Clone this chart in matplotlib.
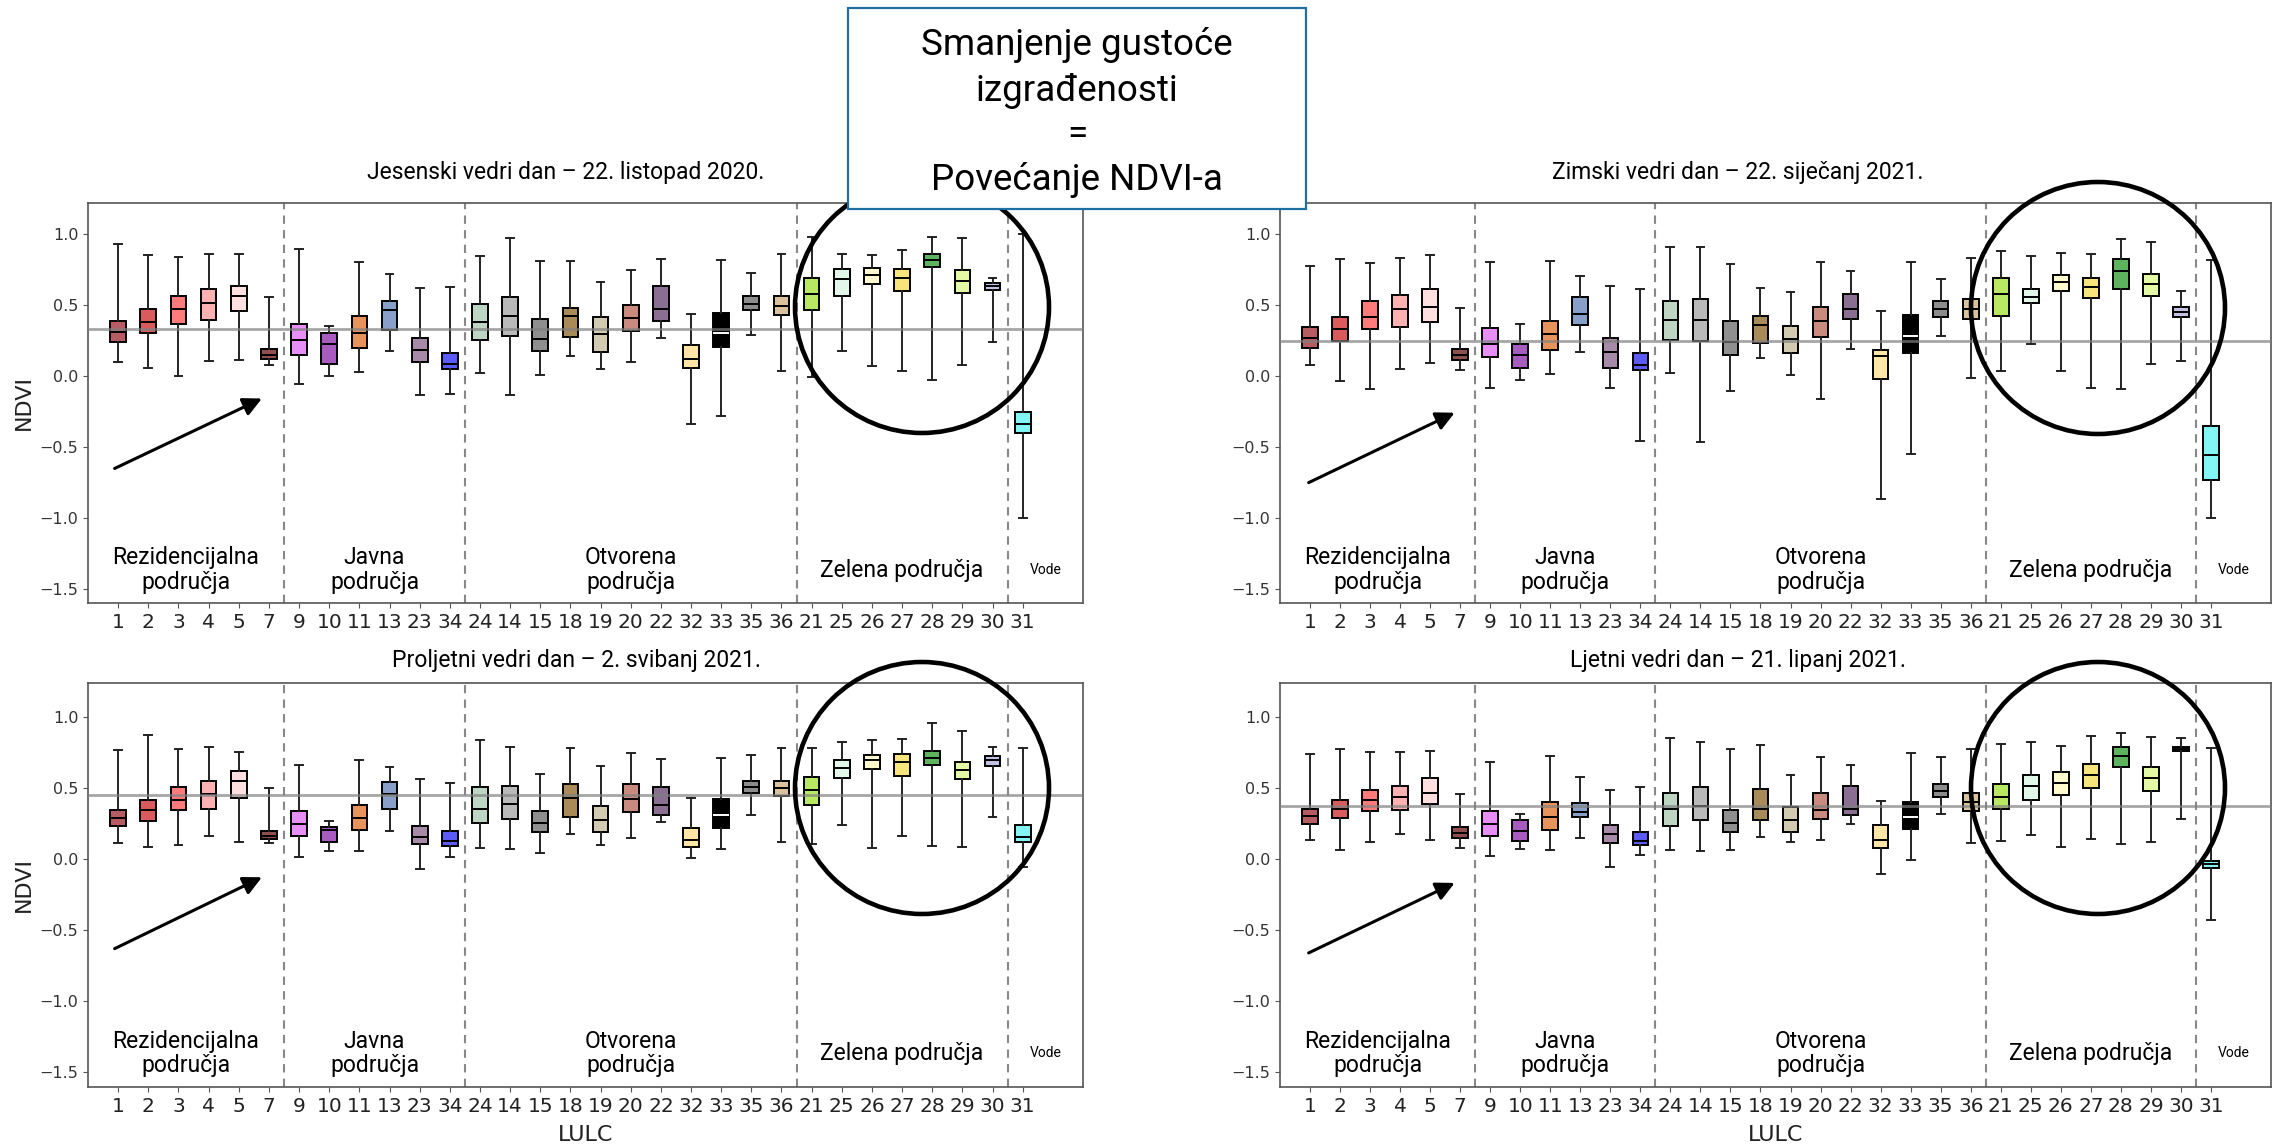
import matplotlib
matplotlib.use("Agg")
import matplotlib.pyplot as plt
from matplotlib.patches import Ellipse, Rectangle

# LULC classes in plot order
lulc = ['1', '2', '3', '4', '5', '7', '9', '10', '11', '13', '23', '34',
        '24', '14', '15', '18', '19', '20', '22', '32', '33', '35', '36',
        '21', '25', '26', '27', '28', '29', '30', '31']
box_colors = ['#b65c62', '#d95b5b', '#ff7b7b', '#ffb1b1', '#ffdfe0', '#8e4f4f',
              '#e78ef7', '#a95cc0', '#e8935c', '#88a0c8', '#a68aa8', '#5b5bf7',
              '#bdd5c3', '#b9b9b9', '#8f8f8f', '#a88b59', '#d3cbb1', '#c98b7e',
              '#8a6f92', '#ffe6a6', '#000000', '#8c8c8c', '#d9c29c',
              '#b9e862', '#e2f6ea', '#fffbcc', '#f7e57c', '#5eb35e', '#e3f9a3',
              '#c2c2e4', '#84f5f5']

group_names = ['Rezidencijalna\npodručja', 'Javna\npodručja', 'Otvorena\npodručja',
               'Zelena područja', 'Vode']
group_sizes = [6, 6, 11, 7, 1]

titles = ['Jesenski vedri dan – 22. listopad 2020.',
          'Zimski vedri dan – 22. siječanj 2021.',
          'Proljetni vedri dan – 2. svibanj 2021.',
          'Ljetni vedri dan – 21. lipanj 2021.']
ref_lines = [0.335, 0.245, 0.45, 0.37]

# autumn (top-left)
autumn_hi = [0.93, 0.85, 0.84, 0.86, 0.86, 0.555, 0.895, 0.356, 0.803, 0.719, 0.623, 0.625,
             0.845, 0.97, 0.808, 0.81, 0.665, 0.749, 0.822, 0.438, 0.815, 0.726, 0.862,
             0.981, 0.862, 0.852, 0.89, 0.977, 0.97, 0.693, 1.0]
autumn_q3 = [0.389, 0.475, 0.562, 0.614, 0.635, 0.19, 0.365, 0.302, 0.424, 0.527, 0.267, 0.166,
             0.51, 0.557, 0.40, 0.482, 0.415, 0.503, 0.635, 0.222, 0.447, 0.562, 0.562,
             0.693, 0.752, 0.759, 0.754, 0.859, 0.745, 0.653, -0.251]
autumn_med = [0.309, 0.379, 0.471, 0.513, 0.567, 0.15, 0.253, 0.227, 0.302, 0.464, 0.183, 0.087,
              0.379, 0.426, 0.26, 0.426, 0.295, 0.412, 0.475, 0.119, 0.302, 0.508, 0.494,
              0.581, 0.684, 0.712, 0.689, 0.815, 0.672, 0.635, -0.335]
autumn_q1 = [0.237, 0.30, 0.37, 0.396, 0.457, 0.12, 0.15, 0.084, 0.20, 0.323, 0.096, 0.047,
             0.255, 0.279, 0.18, 0.274, 0.173, 0.318, 0.386, 0.054, 0.208, 0.464, 0.431,
             0.466, 0.564, 0.651, 0.602, 0.766, 0.588, 0.609, -0.40]
autumn_lo = [0.098, 0.054, 0.0, 0.103, 0.112, 0.075, -0.054, 0.0, 0.026, 0.18, -0.133, -0.126,
             0.023, -0.131, 0.005, 0.143, 0.052, 0.096, 0.267, -0.337, -0.281, 0.286, 0.035,
             -0.009, 0.176, 0.068, 0.035, -0.028, 0.08, 0.239, -0.998]

# winter (top-right)
winter_hi = [0.775, 0.824, 0.799, 0.831, 0.852, 0.48, 0.806, 0.368, 0.81, 0.707, 0.635, 0.611,
             0.909, 0.909, 0.79, 0.621, 0.595, 0.803, 0.742, 0.457, 0.806, 0.684, 0.829,
             0.885, 0.845, 0.871, 0.86, 0.963, 0.948, 0.60, 0.82]
winter_q3 = [0.344, 0.419, 0.527, 0.571, 0.614, 0.19, 0.342, 0.227, 0.386, 0.56, 0.267, 0.162,
             0.532, 0.543, 0.387, 0.426, 0.356, 0.487, 0.576, 0.183, 0.429, 0.529, 0.541,
             0.689, 0.614, 0.71, 0.691, 0.827, 0.719, 0.489, -0.351]
winter_med = [0.265, 0.33, 0.417, 0.473, 0.485, 0.145, 0.227, 0.145, 0.297, 0.438, 0.171, 0.08,
              0.396, 0.396, 0.237, 0.358, 0.26, 0.386, 0.475, 0.138, 0.279, 0.475, 0.473,
              0.576, 0.56, 0.665, 0.63, 0.742, 0.649, 0.452, -0.557]
winter_q1 = [0.201, 0.248, 0.333, 0.344, 0.379, 0.115, 0.131, 0.056, 0.187, 0.358, 0.056, 0.04,
             0.251, 0.244, 0.145, 0.23, 0.164, 0.276, 0.405, -0.019, 0.166, 0.417, 0.40,
             0.424, 0.515, 0.597, 0.548, 0.616, 0.564, 0.415, -0.735]
winter_lo = [0.077, -0.035, -0.091, 0.049, 0.091, 0.044, -0.087, -0.03, 0.014, 0.171, -0.087, -0.457,
             0.023, -0.468, -0.102, 0.124, 0.007, -0.159, 0.194, -0.864, -0.55, 0.279, -0.016,
             0.035, 0.225, 0.033, -0.082, -0.089, 0.084, 0.103, -1.0]

# spring (bottom-left)
spring_hi = [0.766, 0.871, 0.775, 0.792, 0.754, 0.501, 0.66, 0.267, 0.70, 0.649, 0.567, 0.536,
             0.836, 0.792, 0.602, 0.785, 0.653, 0.745, 0.703, 0.431, 0.714, 0.731, 0.785,
             0.785, 0.827, 0.836, 0.843, 0.958, 0.904, 0.789, 0.782]
spring_q3 = [0.344, 0.415, 0.506, 0.548, 0.621, 0.194, 0.337, 0.227, 0.379, 0.546, 0.234, 0.194,
             0.506, 0.513, 0.335, 0.527, 0.375, 0.529, 0.508, 0.22, 0.422, 0.548, 0.548,
             0.581, 0.70, 0.735, 0.738, 0.759, 0.684, 0.726, 0.239]
spring_med = [0.286, 0.344, 0.415, 0.461, 0.55, 0.162, 0.244, 0.204, 0.286, 0.461, 0.157, 0.129,
              0.354, 0.391, 0.255, 0.431, 0.274, 0.426, 0.379, 0.133, 0.309, 0.506, 0.499,
              0.485, 0.644, 0.70, 0.684, 0.712, 0.63, 0.696, 0.157]
spring_q1 = [0.232, 0.269, 0.342, 0.354, 0.433, 0.138, 0.162, 0.122, 0.204, 0.351, 0.105, 0.091,
             0.255, 0.279, 0.19, 0.293, 0.187, 0.328, 0.309, 0.087, 0.22, 0.464, 0.447,
             0.384, 0.571, 0.632, 0.583, 0.66, 0.562, 0.656, 0.119]
spring_lo = [0.115, 0.087, 0.098, 0.164, 0.122, 0.11, 0.012, 0.056, 0.059, 0.194, -0.073, 0.016,
             0.075, 0.068, 0.04, 0.173, 0.096, 0.148, 0.258, 0.009, 0.07, 0.307, 0.119,
             0.103, 0.239, 0.075, 0.159, 0.091, 0.087, 0.295, -0.054]

# summer (bottom-right)
summer_hi = [0.738, 0.775, 0.752, 0.752, 0.761, 0.457, 0.686, 0.319, 0.726, 0.581, 0.489, 0.506,
             0.85, 0.824, 0.774, 0.801, 0.59, 0.721, 0.663, 0.41, 0.749, 0.717, 0.778,
             0.813, 0.824, 0.799, 0.867, 0.89, 0.857, 0.852, 0.782]
summer_q3 = [0.354, 0.417, 0.489, 0.513, 0.569, 0.225, 0.34, 0.272, 0.40, 0.393, 0.239, 0.192,
             0.464, 0.504, 0.348, 0.494, 0.363, 0.464, 0.513, 0.241, 0.40, 0.527, 0.468,
             0.532, 0.59, 0.614, 0.67, 0.789, 0.651, 0.792, -0.014]
summer_med = [0.30, 0.354, 0.417, 0.44, 0.468, 0.183, 0.248, 0.199, 0.295, 0.328, 0.178, 0.129,
              0.349, 0.375, 0.255, 0.351, 0.274, 0.347, 0.354, 0.136, 0.293, 0.482, 0.40,
              0.44, 0.513, 0.534, 0.593, 0.728, 0.569, 0.778, -0.033]
summer_q1 = [0.244, 0.288, 0.335, 0.344, 0.391, 0.148, 0.164, 0.126, 0.206, 0.297, 0.11, 0.096,
             0.23, 0.272, 0.19, 0.272, 0.19, 0.281, 0.309, 0.08, 0.211, 0.44, 0.335,
             0.349, 0.417, 0.452, 0.499, 0.649, 0.482, 0.761, -0.061]
summer_lo = [0.136, 0.066, 0.122, 0.173, 0.133, 0.075, 0.019, 0.068, 0.061, 0.15, -0.056, 0.03,
             0.066, 0.056, 0.066, 0.152, 0.117, 0.133, 0.248, -0.105, -0.005, 0.314, 0.115,
             0.124, 0.169, 0.082, 0.143, 0.108, 0.122, 0.283, -0.431]

panels = [
    (autumn_lo, autumn_q1, autumn_med, autumn_q3, autumn_hi),
    (winter_lo, winter_q1, winter_med, winter_q3, winter_hi),
    (spring_lo, spring_q1, spring_med, spring_q3, spring_hi),
    (summer_lo, summer_q1, summer_med, summer_q3, summer_hi),
]

# arrow tail/head per panel (data coords)
arrows = [((-0.2, -0.66), (4.85, -0.15)),
          ((-0.13, -0.76), (4.9, -0.25)),
          ((-0.2, -0.64), (4.85, -0.12)),
          ((-0.13, -0.67), (4.9, -0.16))]

W, H = 2273, 1145
fig = plt.figure(figsize=(W / 100, H / 100), dpi=100)
txt_font = ['Roboto', 'DejaVu Sans']

ax_rects = [(88, 203, 995, 400), (1280, 203, 991, 400),
            (88, 683, 995, 404), (1280, 683, 991, 404)]
ylims = [(-1.6, 1.22), (-1.6, 1.22), (-1.606, 1.24), (-1.606, 1.24)]

bounds = [-1]
pos = -0.5
for s in group_sizes:
    pos += s
    bounds.append(pos)
bounds[-1] = 32

for k, (lo, q1, med, q3, hi) in enumerate(panels):
    x0, y0, w, h = ax_rects[k]
    ax = fig.add_axes([x0 / W, 1 - (y0 + h) / H, w / W, h / H])

    stats = []
    for i in range(len(lulc)):
        stats.append(dict(whislo=lo[i], q1=q1[i], med=med[i], q3=q3[i], whishi=hi[i], fliers=[]))
    res = ax.bxp(stats, positions=range(len(lulc)), widths=0.52, patch_artist=True,
                 showfliers=False,
                 boxprops=dict(edgecolor='black', linewidth=1.4),
                 whiskerprops=dict(color='#222222', linewidth=1.4),
                 capprops=dict(color='#222222', linewidth=1.4),
                 medianprops=dict(color='black', linewidth=1.4))
    for patch, c in zip(res['boxes'], box_colors):
        patch.set_facecolor(c)
    for m, c in zip(res['medians'], box_colors):
        if c == '#000000':
            m.set_color('white')

    ax.axhline(ref_lines[k], color='gray', lw=2, alpha=0.7, zorder=4)
    for b in bounds[1:-1]:
        ax.axvline(b, color='#888888', ls=(0, (4, 3)), lw=1.5, zorder=1)

    for g in range(len(group_names)):
        cx = (bounds[g] + bounds[g + 1]) / 2
        fs = 10 if group_names[g] == 'Vode' else 16.5
        ax.text(cx, -1.37, group_names[g], ha='center', va='center', fontsize=fs,
                family=txt_font, linespacing=1.1)

    (tx, ty), (hx, hy) = arrows[k]
    ax.annotate('', xy=(hx, hy), xytext=(tx, ty),
                arrowprops=dict(arrowstyle='-|>', color='black', lw=2.2, mutation_scale=28))

    ax.set_xlim(-1, 32)
    ax.set_ylim(*ylims[k])
    ax.set_xticks(range(len(lulc)))
    ax.set_xticklabels(lulc)
    ax.set_yticks([-1.5, -1.0, -0.5, 0.0, 0.5, 1.0])
    ax.tick_params(axis='x', labelsize=14.5, colors='#555555', labelcolor='#222222', pad=4)
    ax.tick_params(axis='y', labelsize=11.5, colors='#555555', labelcolor='#333333')
    for sp in ax.spines.values():
        sp.set_color('#555555')
        sp.set_linewidth(1.2)
    if k % 2 == 0:
        ax.set_ylabel('NDVI', fontsize=16, color='#222222', labelpad=4)
    if k >= 2:
        ax.set_xlabel('LULC', fontsize=16, color='#222222', labelpad=6)

# panel titles
title_pos = [(566, 172), (1738, 172), (576, 661), (1738, 661)]
for t, (px, py) in zip(titles, title_pos):
    fig.text(px / W, 1 - py / H, t, ha='center', va='center', fontsize=16.5, family=txt_font)

# circles around green areas
circle_centers = [(922, 307), (2098, 308), (922, 788), (2098, 788)]
for cx, cy in circle_centers:
    e = Ellipse((cx / W, 1 - cy / H), 254 / W, 252 / H, transform=fig.transFigure,
                fill=False, edgecolor='black', lw=3.3, zorder=5)
    fig.add_artist(e)

# header box
rect = Rectangle((848 / W, 1 - 209 / H), 458 / W, 201 / H, transform=fig.transFigure,
                 facecolor='white', edgecolor='#1f6fa3', lw=1.6, zorder=10)
fig.add_artist(rect)
header_lines = ['Smanjenje gustoće', 'izgrađenosti', '=', 'Povećanje NDVI-a']
header_y = [45, 91, 134, 180]
for line, yy in zip(header_lines, header_y):
    fig.text(1077 / W, 1 - yy / H, line, ha='center', va='center', fontsize=26.5,
             family=txt_font, zorder=11)

fig.savefig('out.png', dpi=100, facecolor='white')
